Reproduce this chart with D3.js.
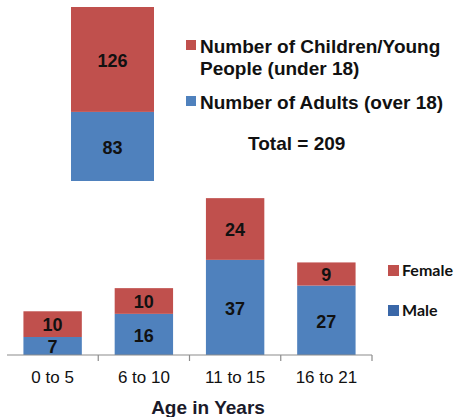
<!DOCTYPE html>
<html>
<head>
<meta charset="utf-8">
<script src="https://cdn.jsdelivr.net/npm/d3@7"></script>
<style>
  html, body { margin: 0; padding: 0; background: #fff; }
  svg { display: block; font-family: "Liberation Sans", Arial, sans-serif; }
</style>
</head>
<body>
<svg id="chart" width="455" height="417"></svg>
<script>
// Overall split (single stacked bar)
const totalLabels = ["Number of Adults (over 18)", "Number of Children/Young People (under 18)"];
const totalValues = [83, 126];

// Age breakdown (stacked by gender)
const ageGroups = ["0 to 5", "6 to 10", "11 to 15", "16 to 21"];
const maleValues = [7, 16, 37, 27];
const femaleValues = [10, 10, 24, 9];
const genderLabels = ["Female", "Male"];

const RED = "#C0504D", BLUE = "#4F81BD", MALE_KEY = "#3A67A8";
const TXT = "#111";

const svg = d3.select("#chart");

// ---- Top: overall stacked bar ----
const yTop = d3.scaleLinear().domain([0, d3.sum(totalValues)]).range([181, 7]);
const topX0 = 71, topX1 = 154;
let acc = 0;
const topSegs = totalValues.map((v, i) => {
  const s = { v, y0: acc, y1: acc + v, color: i === 0 ? BLUE : RED };
  acc += v;
  return s;
});
const gTop = svg.append("g");
gTop.selectAll("rect").data(topSegs).join("rect")
  .attr("x", topX0).attr("width", topX1 - topX0)
  .attr("y", d => yTop(d.y1)).attr("height", d => yTop(d.y0) - yTop(d.y1))
  .attr("fill", d => d.color);
gTop.selectAll("text").data(topSegs).join("text")
  .attr("x", (topX0 + topX1) / 2).attr("y", d => yTop((d.y0 + d.y1) / 2) + 1)
  .attr("dy", "0.35em").attr("text-anchor", "middle")
  .attr("font-size", 18).attr("font-weight", "bold").attr("fill", TXT)
  .text(d => d.v);

// Top legend
const legTop = svg.append("g").attr("font-size", 19).attr("font-weight", "bold").attr("fill", TXT);
legTop.append("rect").attr("x", 186).attr("y", 40).attr("width", 10).attr("height", 10).attr("fill", RED);
legTop.append("text").attr("x", 200).attr("y", 46).attr("dy", "0.35em").text("Number of Children/Young");
legTop.append("text").attr("x", 200).attr("y", 68).attr("dy", "0.35em").text("People (under 18)");
legTop.append("rect").attr("x", 186).attr("y", 96).attr("width", 10).attr("height", 10).attr("fill", BLUE);
legTop.append("text").attr("x", 200).attr("y", 102).attr("dy", "0.35em").text(totalLabels[0]);
legTop.append("text").attr("x", 248).attr("y", 143).attr("dy", "0.35em")
  .text("Total = " + d3.sum(totalValues));

// ---- Bottom: age groups stacked by gender ----
const x = d3.scaleBand().domain(ageGroups).range([7, 372])
  .paddingInner(0.36).paddingOuter(0.18);
const y = d3.scaleLinear().domain([0, 70]).range([355, 175]);

const rows = ageGroups.map((g, i) => ({ group: g, Male: maleValues[i], Female: femaleValues[i] }));
const stack = d3.stack().keys(["Male", "Female"])(rows);
const colors = { Male: BLUE, Female: RED };

const gBars = svg.append("g");
stack.forEach(layer => {
  const key = layer.key;
  gBars.append("g").selectAll("rect").data(layer).join("rect")
    .attr("x", d => x(d.data.group)).attr("width", x.bandwidth())
    .attr("y", d => y(d[1])).attr("height", d => y(d[0]) - y(d[1]))
    .attr("fill", colors[key]);
  gBars.append("g").selectAll("text").data(layer).join("text")
    .attr("x", d => x(d.data.group) + x.bandwidth() / 2)
    .attr("y", d => y((d[0] + d[1]) / 2) + 1).attr("dy", "0.35em")
    .attr("text-anchor", "middle").attr("font-size", 18).attr("font-weight", "bold")
    .attr("fill", TXT).text(d => d.data[key]);
});

// Category axis with ticks between groups
const axisG = svg.append("g").attr("transform", "translate(0,355)");
axisG.append("line").attr("x1", 7).attr("x2", 372).attr("y1", 0).attr("y2", 0)
  .attr("stroke", "#8c8c8c").attr("stroke-width", 1.2);
const boundaries = ageGroups.map(g => x(g) - x.step() * x.paddingInner() / 2 + x.step());
axisG.selectAll("line.tick").data(boundaries).join("line").attr("class", "tick")
  .attr("x1", d => d).attr("x2", d => d).attr("y1", 0).attr("y2", 6)
  .attr("stroke", "#8c8c8c").attr("stroke-width", 1.2);
axisG.selectAll("text").data(ageGroups).join("text")
  .attr("x", d => x(d) + x.bandwidth() / 2).attr("y", 22).attr("dy", "0.35em")
  .attr("text-anchor", "middle").attr("font-size", 17).attr("fill", TXT)
  .text(d => d);

svg.append("text").attr("x", 208).attr("y", 407).attr("dy", "0.35em")
  .attr("text-anchor", "middle").attr("font-size", 19).attr("font-weight", "bold")
  .attr("fill", "#1a1a2a").text("Age in Years");

// Gender legend
const legB = svg.append("g").attr("font-family", "Lato, 'Open Sans', sans-serif")
  .attr("font-size", 16).attr("font-weight", "bold").attr("fill", TXT);
const legItems = [{ label: genderLabels[0], color: RED, y: 270 }, { label: genderLabels[1], color: MALE_KEY, y: 310 }];
legB.selectAll("rect").data(legItems).join("rect")
  .attr("x", 388).attr("y", d => d.y - 5).attr("width", 11).attr("height", 11)
  .attr("fill", d => d.color);
legB.selectAll("text").data(legItems).join("text")
  .attr("x", 402).attr("y", d => d.y).attr("dy", "0.35em").text(d => d.label);
</script>
</body>
</html>
